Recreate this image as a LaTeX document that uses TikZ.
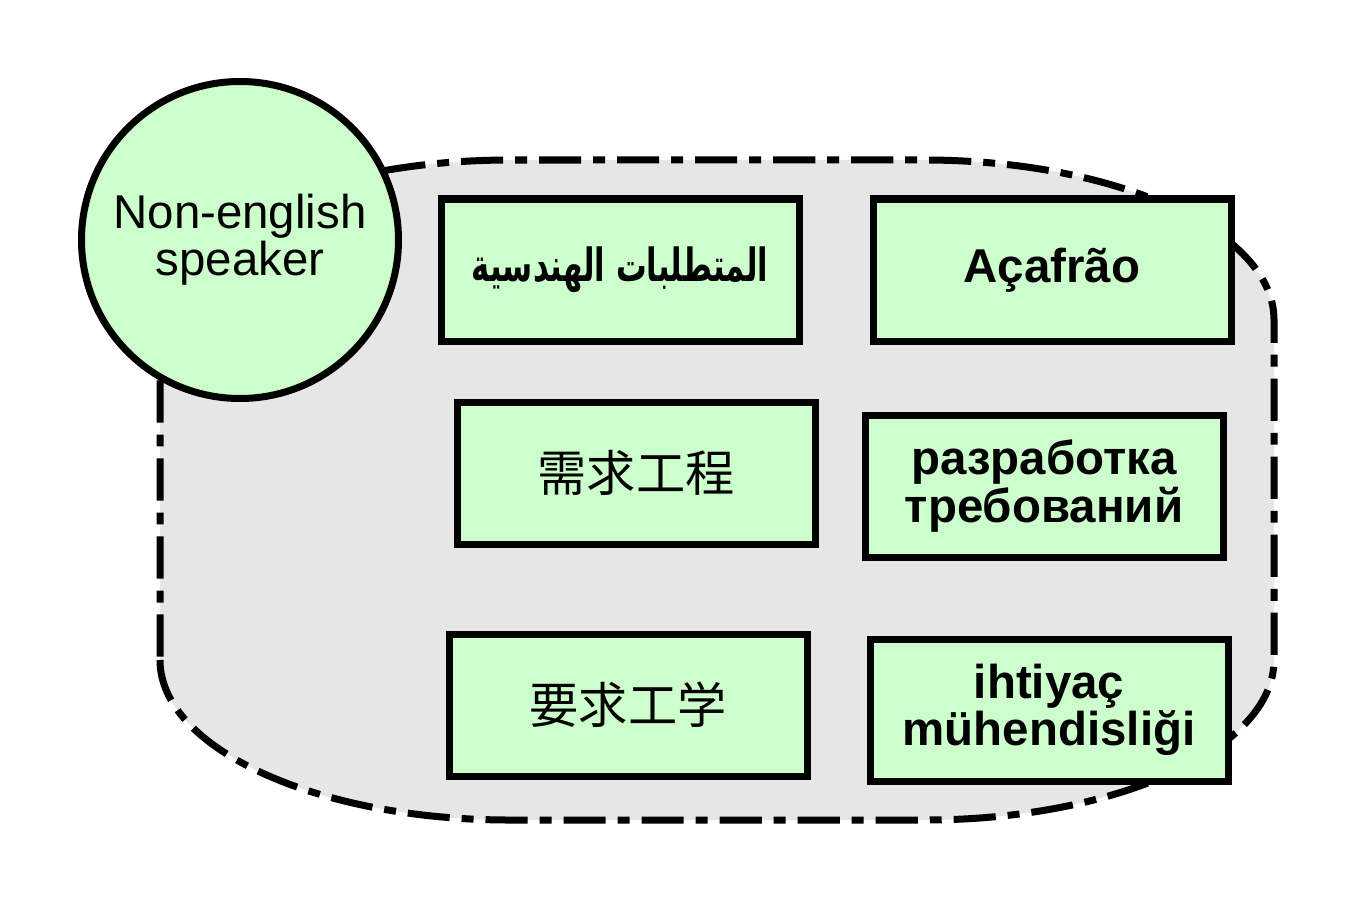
\documentclass[tikz,border=0pt]{standalone}
\usepackage{fontspec}
\setmainfont{Liberation Sans}
\newfontfamily\arabicfont[Script=Arabic]{DejaVu Sans}
\newfontfamily\zhfont{Noto Sans CJK SC}
\newfontfamily\jafont{Noto Sans CJK JP}
\TeXXeTstate=1
\definecolor{boxgreen}{HTML}{CCFFCC}
\definecolor{areagray}{HTML}{E6E6E6}

\begin{document}
\begin{tikzpicture}[
    box/.style={draw, line width=0.07cm, fill=boxgreen, minimum width=3.58cm,
      minimum height=1.42cm, align=center, inner sep=0pt,
      font=\fontsize{13.5}{13.5}\selectfont\bfseries},
    speaker/.style={draw, circle, line width=0.07cm, fill=boxgreen, minimum size=3.17cm,
      align=center, inner sep=0pt, font=\fontsize{13.5}{13.5}\selectfont}]
  \useasboundingbox (0, 0) rectangle (13.52, 9);

  % 灰色区域（点划线边框）
  \draw[line width=0.07cm, fill=areagray, dash pattern=on 12pt off 3.4pt on 3.4pt off 3.4pt]
    (1.6, 2.4) arc[start angle=180, end angle=270, x radius=3.5, y radius=1.6]
    -- (9.24, 0.8) arc[start angle=270, end angle=360, x radius=3.5, y radius=1.6]
    -- (12.74, 5.8) arc[start angle=0, end angle=90, x radius=3.5, y radius=1.6]
    -- (5.1, 7.4) arc[start angle=90, end angle=180, x radius=3.5, y radius=1.6]
    -- cycle;

  % 各语言的方框
  \node[box] (ar) at (6.20, 6.30)
    {\scalebox{0.67}[1]{\arabicfont\fontsize{13}{13}\selectfont\beginR المتطلبات الهندسية\endR}};
  \node[box] (pt) at (10.52, 6.30) {Açafrão};
  \node[box] (zh) at (6.36, 4.27) {\mdseries\zhfont\fontsize{14}{14}\selectfont 需求工程};
  \node[box] (ru) at (10.44, 4.14) {разработка\\требований};
  \node[box] (ja) at (6.28, 1.95) {\mdseries\jafont\fontsize{14}{14}\selectfont 要求工学};
  \node[box] (tr) at (10.49, 1.90) {ihtiyaç\\mühendisliği};

  % 圆
  \node[speaker] (user) at (2.40, 6.60) {Non-english\\speaker};
\end{tikzpicture}
\end{document}
